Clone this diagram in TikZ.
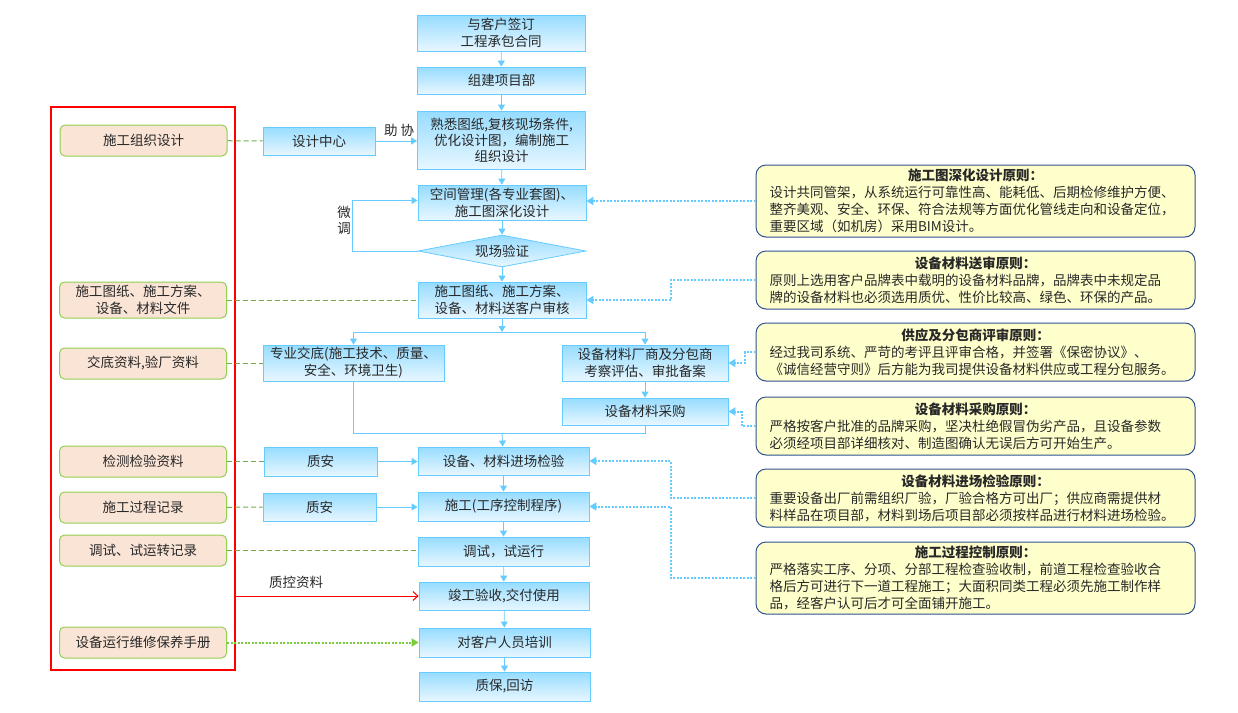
\documentclass[tikz,border=0pt]{standalone}
\usepackage{fontspec}
\setmainfont{Noto Sans CJK SC}
\usetikzlibrary{arrows.meta,positioning,calc,shapes.geometric}
\definecolor{boxline}{RGB}{102,204,255}
\definecolor{boxtop}{RGB}{150,220,255}
\definecolor{boxbot}{RGB}{232,247,255}
\definecolor{docfill}{RGB}{250,228,214}
\definecolor{docline}{RGB}{146,208,80}
\definecolor{notefill}{RGB}{255,255,204}
\definecolor{noteline}{RGB}{47,82,143}
\definecolor{dashgreen}{RGB}{112,173,71}
\definecolor{dotgreen}{RGB}{122,204,60}
\definecolor{ink}{RGB}{40,40,40}

\begin{document}
\begin{tikzpicture}[x=1pt, y=-1pt, font=\fontsize{13.5}{17}\selectfont, text=ink, proc/.style={draw=boxline, line width=0.8pt, top color=boxtop, bottom color=boxbot, align=center, inner sep=0pt, minimum width=168pt, minimum height=28pt}, doc/.style={draw=docline, line width=1pt, fill=docfill, rounded corners=5pt, align=center, inner sep=0pt, minimum width=167pt, minimum height=31pt}, note/.style={draw=noteline, line width=1pt, fill=notefill, rounded corners=10pt, align=left, text width=412pt, inner xsep=13.5pt, inner ysep=2pt, minimum width=439pt}, conn/.style={-{Triangle[width=7pt,length=6pt]}, boxline, line width=0.8pt}, link/.style={boxline, line width=0.8pt}, gdash/.style={dashgreen, line width=1pt, dash pattern=on 5pt off 3pt}, gdot/.style={dotgreen, line width=2pt, dash pattern=on 2pt off 1.5pt, -{Triangle[width=8pt,length=7pt]}}, bdot/.style={boxline, line width=2pt, dash pattern=on 2pt off 1.5pt, -{Triangle[width=8pt,length=7pt]}}, tag/.style={text=ink, font=\fontsize{13.5}{16}\selectfont}]
\useasboundingbox (0,0) rectangle (1238,712);
\node[proc, minimum height=36pt] (b1) at (501,33) {与客户签订\\工程承包合同};
\node[proc, minimum height=27pt] (b2) at (501.5,80.5) {组建项目部};
\node[proc, minimum height=58pt, font=\fontsize{13.5}{16}\selectfont] (b3) at (501.5,140) {熟悉图纸,复核现场条件,\\优化设计图，编制施工\\组织设计};
\node[proc, minimum height=35pt] (b4) at (502,202.5) {空间管理(各专业套图)、\\施工图深化设计};
\node[diamond, draw=boxline, line width=0.8pt, top color=boxtop, bottom color=boxbot, inner sep=0pt, minimum width=168pt, minimum height=32pt, aspect=5.25] (b5) at (502,251) {现场验证};
\node[proc, minimum height=36pt] (b6) at (502,300) {施工图纸、施工方案、\\设备、材料送客户审核};
\node[proc, minimum width=181pt, minimum height=36pt] (b7) at (353.5,363) {专业交底(施工技术、质量、\\安全、环境卫生)};
\node[proc, minimum width=166pt, minimum height=36pt] (b8) at (645,363) {设备材料厂商及分包商\\考察评估、审批备案};
\node[proc, minimum width=166pt, minimum height=27pt] (b9) at (645,411.5) {设备材料采购};
\node[proc, minimum width=171pt] (b10) at (503.5,461) {设备、材料进场检验};
\node[proc, minimum width=171pt, minimum height=29pt] (b11) at (503.5,506.5) {施工(工序控制程序)};
\node[proc, minimum width=171pt, minimum height=29pt] (b12) at (503.5,551.5) {调试，试运行};
\node[proc, minimum width=170pt] (b13) at (504,596) {竣工验收,交付使用};
\node[proc, minimum width=171pt, minimum height=29pt] (b14) at (504.5,642.5) {对客户人员培训};
\node[proc, minimum width=171pt, minimum height=29pt] (b15) at (504.5,686.5) {质保,回访};
\node[proc, minimum width=112pt] (dc) at (319,141) {设计中心};
\node[proc, minimum width=113pt, minimum height=29pt] (qa1) at (320.5,461.5) {质安};
\node[proc, minimum width=113pt] (qa2) at (319.5,507) {质安};
\node[doc] (d1) at (143.5,140.5) {施工组织设计};
\node[doc, minimum height=36pt] (d2) at (143,300) {施工图纸、施工方案、\\设备、材料文件};
\node[doc] (d3) at (143,363.5) {交底资料,验厂资料};
\node[doc] (d4) at (143,461.5) {检测检验资料};
\node[doc] (d5) at (143,507.5) {施工过程记录};
\node[doc] (d6) at (143,550.5) {调试、试运转记录};
\node[doc] (d7) at (143,642.5) {设备运行维修保养手册};
\node[draw=red, line width=1.5pt, minimum width=184pt, minimum height=563pt, inner sep=0pt] (frame) at (143,388.5) {};
\node[note, minimum height=72pt] (n1) at (975.5,201) {\hfill\textbf{施工图深化设计原则：}\hfill\null\\设计共同管架，从系统运行可靠性高、能耗低、后期检修维护方便、\\整齐美观、安全、环保、符合法规等方面优化管线走向和设备定位，\\重要区域（如机房）采用BIM设计。};
\node[note, minimum height=58pt] (n2) at (975.5,280) {\hfill\textbf{设备材料送审原则：}\hfill\null\\原则上选用客户品牌表中载明的设备材料品牌，品牌表中未规定品\\牌的设备材料也必须选用质优、性价比较高、绿色、环保的产品。};
\node[note, minimum height=58pt] (n3) at (975.5,352) {\hfill\textbf{供应及分包商评审原则：}\hfill\null\\经过我司系统、严苛的考评且评审合格，并签署《保密协议》、\\《诚信经营守则》后方能为我司提供设备材料供应或工程分包服务。};
\node[note, minimum height=58pt] (n4) at (975.5,426) {\hfill\textbf{设备材料采购原则：}\hfill\null\\严格按客户批准的品牌采购，坚决杜绝假冒伪劣产品，且设备参数\\必须经项目部详细核对、制造图确认无误后方可开始生产。};
\node[note, minimum height=58pt] (n5) at (975.5,498) {\hfill\textbf{设备材料进场检验原则：}\hfill\null\\重要设备出厂前需组织厂验，厂验合格方可出厂；供应商需提供材\\料样品在项目部，材料到场后项目部必须按样品进行材料进场检验。};
\node[note, minimum height=72pt] (n6) at (975.5,578) {\hfill\textbf{施工过程控制原则：}\hfill\null\\严格落实工序、分项、分部工程检查验收制，前道工程检查验收合\\格后方可进行下一道工程施工；大面积同类工程必须先施工制作样\\品，经客户认可后才可全面铺开施工。};
\coordinate (split) at (502,332);
\coordinate (merge) at (502,433);
\draw[conn] (b1) -- (b2);
\draw[conn] (b2) -- (b3);
\draw[conn] (b3) -- (b4);
\draw[conn] (b4) -- (b5);
\draw[conn] (b5) -- (b6);
\draw[conn] (b5.west) -- ++(-65,0) |- ([yshift=2pt]b4.west);
\node[tag, align=center] (tune) at (344,220) {微\\调};
\draw[conn] (b6) -- (split);
\draw[conn] (split) -| (b7.north);
\draw[conn] (split) -| (b8.north);
\draw[conn] (b8) -- (b9);
\draw[link] (b7.south) |- (merge);
\draw[link] (b9.south) |- (merge);
\draw[conn] (merge) -- (b10);
\draw[conn] (b10) -- (b11);
\draw[conn] (b11) -- (b12);
\draw[conn] (b12) -- (b13);
\draw[conn] (b13) -- (b14);
\draw[conn] (b14) -- (b15);
\draw[conn] (dc) -- (dc -| b3.west) node[tag, pos=0.57, above=1pt] (help) {助 协};
\draw[conn] (qa1) -- (qa1 -| b10.west);
\draw[conn] (qa2) -- (qa2 -| b11.west);
\draw[gdash] (d1) -- (dc);
\draw[gdash] (d2) -- (d2 -| b6.west);
\draw[gdash] (d3) -- (d3 -| b7.west);
\draw[gdash] (d4) -- (qa1);
\draw[gdash] (d5) -- (qa2);
\draw[gdash] (d6) -- (d6 -| b12.west);
\draw[gdot] (d7) -- (d7 -| b14.west);
\draw[red, line width=1pt, -{Straight Barb[width=9pt,length=5pt]}] (frame.east |- b13) -- (b13.west) node[tag, pos=0.33, above=4pt] (qc) {质控资料};
\draw[bdot] (n1.west) -- (n1.west -| b4.east);
\draw[bdot] (n2.west) -- ++(-85,0) |- (b6.east);
\draw[bdot] (n3.west) -- ++(-11,0) |- (b8.east);
\draw[bdot] (n4.west) -- ++(-14,0) |- (b9.east);
\draw[bdot] (n5.west) -- ++(-85,0) |- (b10.east);
\draw[bdot] (n6.west) -- ++(-85,0) |- (b11.east);
\end{tikzpicture}
\end{document}
